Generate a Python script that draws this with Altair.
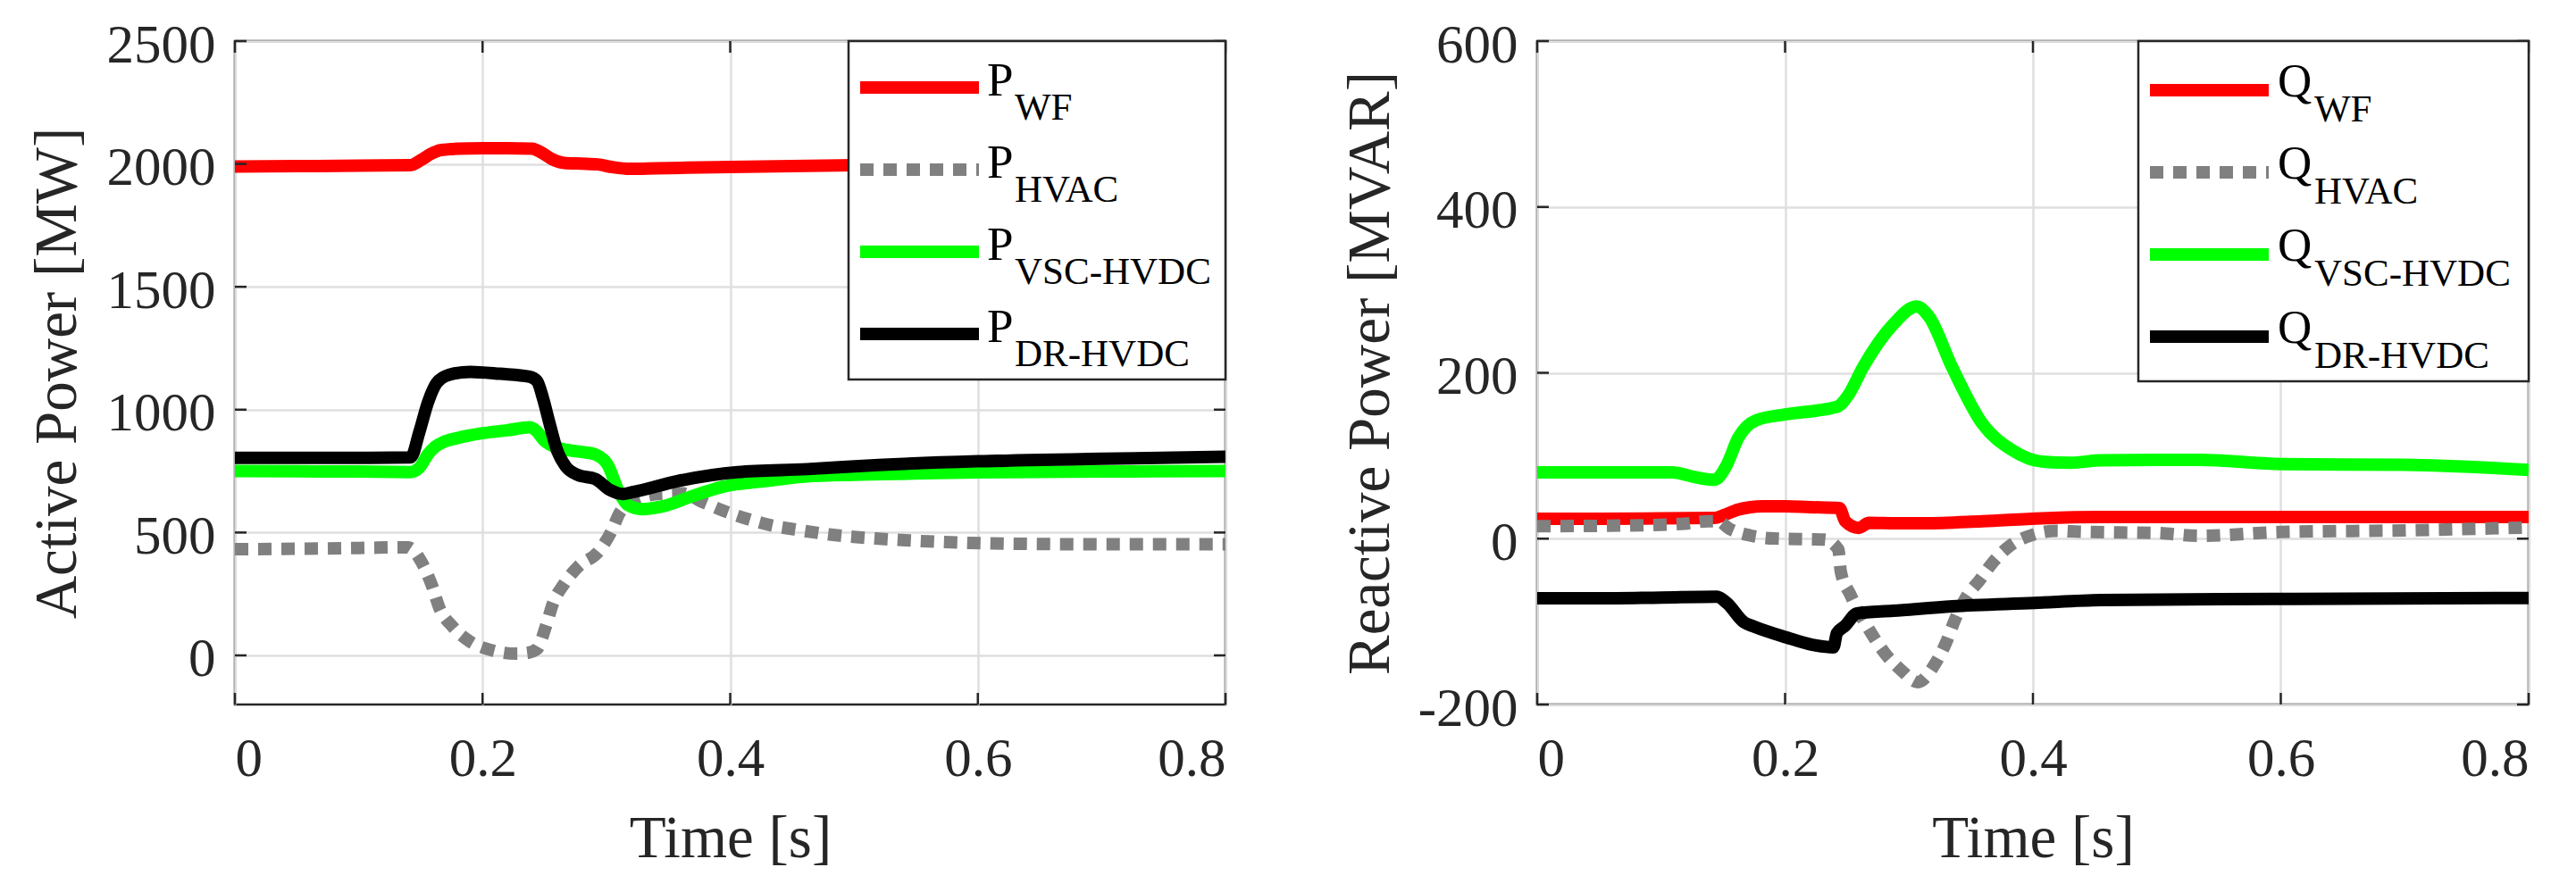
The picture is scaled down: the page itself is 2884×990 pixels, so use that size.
import altair as alt
import pandas as pd

# ---------------- data ----------------
X_TICKS = [0, 0.2, 0.4, 0.6, 0.8]
P_TICKS = [0, 500, 1000, 1500, 2000, 2500]
Q_TICKS = [-200, 0, 200, 400, 600]
P_DOMAIN = [-200, 2500]
Q_DOMAIN = [-200, 600]
SERIES = ["WF", "HVAC", "VSC-HVDC", "DR-HVDC"]
COLORS = ["#ff0000", "#808080", "#00ff00", "#000000"]

# Active power [MW]
T_P_WF = [0, 0.05, 0.10, 0.142, 0.150, 0.158, 0.166, 0.18, 0.20, 0.22, 0.240, 0.248,
          0.256, 0.266, 0.28, 0.293, 0.305, 0.319, 0.34, 0.40, 0.50, 0.60, 0.70, 0.80]
P_WF = [1989, 1991, 1993, 1995, 2015, 2040, 2056, 2062, 2064, 2064, 2062, 2045,
        2020, 2004, 2001, 1998, 1987, 1980, 1982, 1988, 1995, 1998, 2000, 2000]

T_P_HVAC = [0, 0.05, 0.10, 0.140, 0.144, 0.151, 0.159, 0.165, 0.176, 0.190, 0.208, 0.227,
            0.236, 0.244, 0.251, 0.257, 0.266, 0.278, 0.293, 0.304, 0.311, 0.325, 0.344,
            0.360, 0.380, 0.398, 0.416, 0.434, 0.453, 0.48, 0.52, 0.56, 0.62, 0.70, 0.80]
P_HVAC = [432, 434, 437, 440, 428, 377, 286, 195, 116, 56, 20, 7,
          10, 26, 116, 213, 292, 365, 419, 504, 582, 637, 658,
          660, 619, 582, 552, 528, 512, 492, 475, 464, 455, 452, 452]

T_P_VSC = [0, 0.05, 0.10, 0.142, 0.149, 0.156, 0.162, 0.168, 0.18, 0.20, 0.22, 0.238,
           0.243, 0.250, 0.262, 0.28, 0.291, 0.301, 0.310, 0.317, 0.329, 0.346, 0.370,
           0.394, 0.430, 0.462, 0.50, 0.55, 0.60, 0.70, 0.80]
P_VSC = [750, 749, 748, 746, 764, 819, 850, 867, 885, 904, 916, 928,
         916, 873, 843, 828, 818, 776, 667, 613, 595, 607, 649,
         686, 710, 728, 735, 740, 745, 748, 750]

T_P_DR = [0, 0.05, 0.10, 0.142, 0.149, 0.156, 0.163, 0.173, 0.190, 0.214, 0.238, 0.244,
          0.249, 0.254, 0.260, 0.267, 0.277, 0.291, 0.303, 0.313, 0.322, 0.358, 0.406,
          0.462, 0.52, 0.60, 0.70, 0.80]
P_DR = [804, 804, 804, 806, 910, 1031, 1109, 1142, 1154, 1146, 1134, 1116,
        1043, 946, 837, 770, 734, 718, 673, 657, 665, 710, 746,
        758, 775, 790, 800, 808]

# Reactive power [MVAR]
T_Q_WF = [0, 0.05, 0.10, 0.143, 0.150, 0.162, 0.172, 0.182, 0.20, 0.22, 0.2438, 0.2486,
          0.2594, 0.2678, 0.29, 0.312, 0.359, 0.407, 0.455, 0.55, 0.65, 0.80]
Q_WF = [24, 24, 24.5, 25, 28, 35, 38, 39, 39, 38, 37, 21,
        13, 19, 18.5, 18.5, 21, 24.5, 26, 26, 26, 26]

T_Q_HVAC = [0, 0.05, 0.10, 0.119, 0.138, 0.146, 0.155, 0.172, 0.191, 0.232, 0.243, 0.245,
            0.2525, 0.270, 0.281, 0.294, 0.307, 0.321, 0.330, 0.337, 0.346, 0.357, 0.368,
            0.382, 0.400, 0.419, 0.438, 0.47, 0.50, 0.534, 0.60, 0.70, 0.80]
Q_HVAC = [15, 15.5, 16.8, 18, 21, 21, 12, 3.8, 0.2, -1.2, -13, -40,
          -67, -115, -139, -159, -173, -151, -125, -98, -71, -50, -28,
          -8, 4.7, 9.4, 8.3, 7.5, 6.8, 3.4, 8, 10, 13.5]

T_Q_VSC = [0, 0.05, 0.109, 0.125, 0.143, 0.153, 0.162, 0.177, 0.201, 0.242, 0.251, 0.263,
           0.287, 0.306, 0.316, 0.335, 0.359, 0.383, 0.407, 0.431, 0.455, 0.534, 0.60,
           0.70, 0.80]
Q_VSC = [80, 80, 80, 75, 71, 89, 121, 143, 150, 159, 173, 207,
         258, 280, 268, 206, 139, 107, 93, 91.6, 94.5, 95, 90,
         89, 83]

T_Q_DR = [0, 0.05, 0.10, 0.145, 0.153, 0.167, 0.175, 0.201, 0.222, 0.239, 0.2418, 0.2485,
          0.2581, 0.287, 0.335, 0.401, 0.455, 0.55, 0.65, 0.80]
Q_DR = [-72, -72, -71, -70, -77.5, -101, -106, -119, -128, -131, -114, -105,
        -90, -87, -81.5, -77.5, -74, -73, -72.5, -71.5]

# ---------------- styling ----------------
FONT = "Liberation Serif"
INK = "#262626"
LW = 14
DOT = [15, 11]
AX = dict(labelFont=FONT, titleFont=FONT, labelFontSize=61, titleFontSize=67,
          titleFontWeight="normal", labelColor=INK, titleColor=INK,
          gridColor="#dfdfdf", gridWidth=2.5, gridOpacity=1,
          ticks=False, domain=False, grid=True, labelExpr="'' + datum.value")


def panel(series_data, ydomain, yticks, ytitle, letter, width, height,
          title_x, legend):
    xs = alt.Scale(domain=[0, 0.8], nice=False, zero=False)
    ys = alt.Scale(domain=ydomain, nice=False, zero=False)
    x_axis = alt.Axis(values=X_TICKS, labelPadding=31,
                      title="Time [s]", titleX=width / 2, titleY=117,
                      titleBaseline="top", titleAlign="center", **AX)
    y_axis = alt.Axis(values=yticks, labelPadding=22, labelOffset=5,
                      title=ytitle, titleX=title_x, titleY=height / 2,
                      titleAngle=270, titleBaseline="bottom", titleAlign="center", **AX)
    X = lambda f: alt.X(f, scale=xs, axis=x_axis)
    Y = lambda f: alt.Y(f, scale=ys, axis=y_axis)
    layers = []
    for i, (key, (ts, vs)) in enumerate(zip(SERIES, series_data)):
        df = pd.DataFrame({"t": ts, "v": vs})
        kw = dict(color=COLORS[i], strokeWidth=LW, strokeJoin="round",
                  strokeCap="butt", interpolate="monotone", clip=True)
        if key == "HVAC":
            kw["strokeDash"] = DOT
        layers.append(alt.Chart(df).mark_line(**kw).encode(x=X("t:Q"), y=Y("v:Q")))
    # inward ticks on all four sides
    xt = pd.DataFrame({"t": X_TICKS})
    yt = pd.DataFrame({"v": yticks})
    tl = 13
    for y0, y1 in [(height, height - tl), (0, tl)]:
        layers.append(alt.Chart(xt).mark_rule(color=INK, strokeWidth=2.5).encode(
            x=X("t:Q"), y=alt.value(y0), y2=alt.value(y1)))
    for x0, x1 in [(0, tl), (width - tl, width)]:
        layers.append(alt.Chart(yt).mark_rule(color=INK, strokeWidth=2.5).encode(
            y=Y("v:Q"), x=alt.value(x0), x2=alt.value(x1)))
    # legend box
    bx0, bx1, by0, by1 = legend["box"]
    one = pd.DataFrame({"k": [0]})
    layers.append(alt.Chart(one).mark_rect(fill="white", stroke=INK, strokeWidth=2.5).encode(
        x=alt.value(bx0), x2=alt.value(bx1), y=alt.value(by0), y2=alt.value(by1)))
    lx0, lx1 = legend["line_x"]
    for i, key in enumerate(SERIES):
        ly = legend["y0"] + i * legend["dy"]
        kw = dict(color=COLORS[i], strokeWidth=LW, strokeCap="butt")
        if key == "HVAC":
            kw["strokeDash"] = DOT
        lab = pd.DataFrame({"main": [letter], "sub": [key]})
        layers.append(alt.Chart(lab).mark_rule(**kw).encode(
            x=alt.value(lx0), x2=alt.value(lx1), y=alt.value(ly)))
        layers.append(alt.Chart(lab).mark_text(
            font=FONT, fontSize=53, align="left", baseline="alphabetic", color="#000000"
        ).encode(x=alt.value(legend["main_x"]), y=alt.value(ly + legend["main_dy"]),
                 text="main:N"))
        layers.append(alt.Chart(lab).mark_text(
            font=FONT, fontSize=43, align="left", baseline="alphabetic", color="#000000"
        ).encode(x=alt.value(legend["sub_x"]), y=alt.value(ly + legend["sub_dy"]),
                 text="sub:N"))
    return alt.layer(*layers).properties(width=width, height=height)


left = panel(
    [(T_P_WF, P_WF), (T_P_HVAC, P_HVAC), (T_P_VSC, P_VSC), (T_P_DR, P_DR)],
    P_DOMAIN, P_TICKS, "Active Power [MW]", "P", 1109, 743, -165,
    dict(box=(687, 1109, 0, 379), line_x=(700, 833), y0=52, dy=92,
         main_x=842, main_dy=9, sub_x=873, sub_dy=36),
)
right = panel(
    [(T_Q_WF, Q_WF), (T_Q_HVAC, Q_HVAC), (T_Q_VSC, Q_VSC), (T_Q_DR, Q_DR)],
    Q_DOMAIN, Q_TICKS, "Reactive Power [MVAR]", "Q", 1110, 743, -153,
    dict(box=(673, 1110, 0, 381), line_x=(686, 819), y0=55, dy=92,
         main_x=829, main_dy=7, sub_x=870, sub_dy=35),
)

chart = alt.hconcat(left, right, spacing=349, bounds="flush").properties(
    padding={"left": 20, "top": 10, "right": 0, "bottom": 0}
).configure(
    background="white", font=FONT
).configure_view(
    stroke=INK, strokeWidth=2.5
).configure_axis(
    labelFont=FONT, titleFont=FONT
)

chart.save("out.html", embed_options={"renderer": "svg", "actions": False})
